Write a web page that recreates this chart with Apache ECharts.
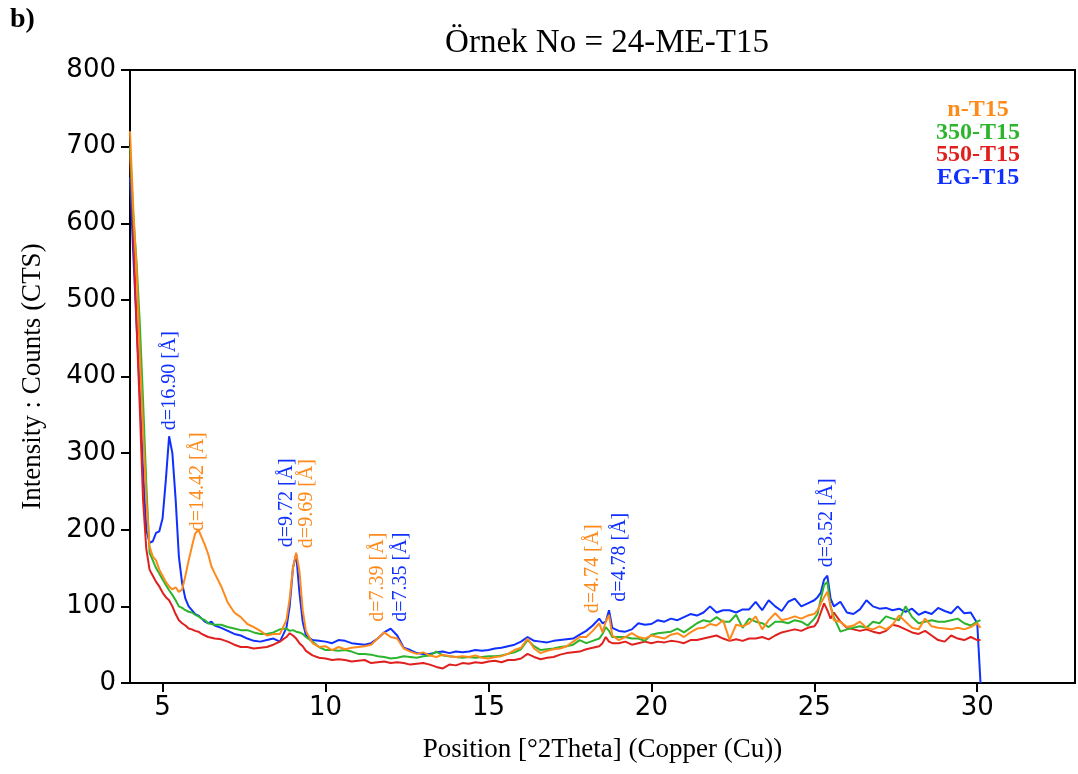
<!DOCTYPE html>
<html>
<head>
<meta charset="utf-8">
<title>Örnek No = 24-ME-T15</title>
<script src="https://cdn.jsdelivr.net/npm/echarts@6.0.0/dist/echarts.min.js"></script>
<style>
html, body { margin: 0; padding: 0; background: #fff; }
#main { width: 1078px; height: 774px; }
</style>
</head>
<body>
<div id="main"></div>
<script>
// 2Theta positions shared by all four patterns
var twoTheta = [
	4.0, 4.1, 4.2, 4.3, 4.4, 4.5, 4.6, 4.7, 4.8, 4.9, 5.0, 5.1, 5.2, 5.3, 5.4, 5.5, 5.6, 5.7, 5.8, 5.9, 6.0, 6.1, 6.2, 6.3, 6.4, 6.5, 6.6,
	6.8, 7.0, 7.2, 7.4, 7.6, 7.8, 8.0, 8.2, 8.4, 8.6, 8.8,
	8.9, 9.0, 9.1, 9.2, 9.3, 9.4,
	9.6, 9.8, 10.0, 10.2, 10.4, 10.6, 10.8, 11.0, 11.2, 11.4, 11.6, 11.8, 12.0, 12.2, 12.4, 12.6, 12.8, 13.0, 13.2, 13.4, 13.6, 13.8,
	14.0, 14.2, 14.4, 14.6, 14.8, 15.0, 15.2, 15.4, 15.6, 15.8, 16.0, 16.2, 16.4, 16.6, 16.8, 17.0, 17.2, 17.4, 17.6, 17.8, 18.0, 18.2, 18.4,
	18.5, 18.6, 18.7, 18.8,
	19.0, 19.2, 19.4, 19.6, 19.8, 20.0, 20.2, 20.4, 20.6, 20.8, 21.0, 21.2, 21.4, 21.6, 21.8, 22.0, 22.2, 22.4, 22.6, 22.8,
	23.0, 23.2, 23.4, 23.6, 23.8, 24.0, 24.2, 24.4, 24.6, 24.8, 25.0,
	25.1, 25.2, 25.3, 25.4, 25.5, 25.6,
	25.8, 26.0, 26.2, 26.4, 26.6, 26.8, 27.0, 27.2, 27.4, 27.6, 27.8, 28.0, 28.2, 28.4, 28.6, 28.8, 29.0, 29.2, 29.4, 29.6, 29.8, 30.0,
	30.1
];

var egT15 = [
	660, 560, 470, 380, 280, 200, 183, 185, 196, 198, 215, 265, 322, 300, 240, 165, 130, 110, 100, 95, 90, 88, 84, 80, 78, 80, 75,
	72, 68, 64, 62, 58, 55, 54, 56, 58, 54, 72,
	100, 150, 168, 118, 80, 62,
	56, 55, 54, 52, 56, 55, 52, 51, 50, 52, 58, 66, 71, 62, 46, 43, 39, 38, 38, 40, 41, 39,
	41, 40, 41, 43, 42, 43, 45, 46, 48, 50, 54, 60, 55, 54, 53, 55, 56, 57, 58, 63, 68, 75, 84,
	78, 80, 95, 72,
	68, 67, 70, 78, 76, 77, 82, 80, 84, 82, 86, 90, 88, 92, 100, 92, 95, 95, 92, 96,
	96, 106, 95, 108, 100, 94, 106, 110, 100, 104, 108,
	112, 118, 135, 140, 110, 100,
	106, 92, 90, 96, 108, 100, 97, 98, 95, 97, 93, 97, 89, 93, 90, 98, 94, 91, 100, 91, 92, 78,
	0
];

var nT15 = [
	720, 620, 540, 430, 330, 240, 178, 165, 160, 148, 140, 132, 126, 122, 125, 119, 122, 140, 160, 178, 195, 200, 190, 180, 168, 152, 143,
	126, 105, 92, 86, 77, 73, 68, 62, 64, 64, 82,
	110, 150, 170, 146, 95, 68,
	52, 47, 48, 43, 47, 44, 46, 47, 48, 50, 58, 66, 60, 58, 45, 41, 38, 40, 36, 34, 37, 35,
	34, 35, 34, 36, 33, 32, 34, 35, 38, 43, 46, 58, 45, 39, 42, 44, 45, 48, 54, 60, 60, 68, 78,
	66, 80, 89, 62,
	56, 60, 65, 60, 58, 62, 60, 58, 63, 65, 60, 66, 71, 72, 77, 75, 82, 56, 76, 74,
	78, 87, 70, 82, 91, 82, 84, 87, 84, 88, 90,
	95, 104, 112, 119, 100, 82,
	80, 73, 75, 80, 72, 70, 74, 70, 76, 88, 80, 72, 70, 84, 74, 72, 71, 70, 72, 70, 73, 78,
	72
];

var t15_350 = [
	700, 610, 550, 470, 370, 260, 170, 160, 150, 143, 135, 128, 121, 115, 108, 100, 98, 95, 93, 92, 89, 87, 84, 82, 78, 77, 76,
	76, 73, 71, 69, 69, 66, 64, 64, 66, 70, 71,
	68, 69, 67, 66, 64, 60,
	54, 47, 43, 43, 42, 43, 41, 38, 38, 37, 35, 34, 32, 33, 35, 34, 33, 35, 36, 41, 36, 35,
	34, 33, 34, 33, 34, 35, 35, 36, 38, 40, 44, 56, 48, 43, 44, 45, 47, 48, 50, 56, 52, 55, 58,
	64, 73, 68, 60,
	60, 60, 58, 58, 55, 63, 65, 66, 67, 71, 66, 72, 78, 82, 80, 86, 80, 80, 89, 72,
	84, 80, 78, 73, 80, 80, 78, 82, 80, 75, 84,
	90, 110, 128, 132, 100, 86,
	67, 70, 72, 74, 72, 80, 78, 87, 84, 82, 100, 86, 78, 80, 82, 80, 80, 82, 84, 78, 75, 80,
	82
];

var t15_550 = [
	690, 590, 470, 360, 240, 175, 148, 140, 132, 126, 118, 112, 108, 100, 90, 82, 78, 75, 71, 70, 68, 67, 64, 62, 60, 59, 58,
	57, 54, 50, 47, 47, 45, 46, 47, 50, 54, 60,
	65, 62, 58, 52, 48, 42,
	36, 33, 32, 30, 31, 30, 28, 29, 30, 26, 27, 28, 26, 27, 26, 24, 25, 26, 24, 21, 19, 24,
	23, 26, 25, 27, 26, 28, 29, 27, 30, 30, 32, 38, 34, 31, 33, 34, 37, 39, 40, 41, 44, 46, 48,
	52, 60, 54, 52,
	52, 54, 50, 52, 54, 52, 54, 53, 55, 54, 52, 56, 56, 58, 60, 62, 58, 55, 57, 55,
	58, 58, 60, 57, 62, 66, 68, 70, 68, 72, 74,
	80, 92, 104, 95, 84, 92,
	80, 72, 70, 68, 70, 67, 65, 68, 76, 74, 70, 66, 64, 68, 62, 56, 54, 62, 58, 56, 60, 56,
	56
];

var seriesNames = ['n-T15', '350-T15', '550-T15', 'EG-T15'];
var seriesColors = ['#ff8a1c', '#2cb52c', '#e0201e', '#0f30ff'];
var seriesValues = [nT15, t15_350, t15_550, egT15];

var xTicks = [5, 10, 15, 20, 25, 30];

// d-spacing notes: text, pattern, anchor [2Theta, counts]
var peakText = ['d=16.90 [Å]', 'd=14.42 [Å]', 'd=9.72 [Å]', 'd=9.69 [Å]', 'd=7.39 [Å]', 'd=7.35 [Å]', 'd=4.74 [Å]', 'd=4.78 [Å]', 'd=3.52 [Å]'];
var peakSeries = ['EG-T15', 'n-T15', 'EG-T15', 'n-T15', 'n-T15', 'EG-T15', 'n-T15', 'EG-T15', 'EG-T15'];
var peakAt = [[5.22, 330], [6.08, 198], [8.82, 177], [9.42, 176], [11.6, 80], [12.3, 80], [18.19, 91], [19.02, 106], [25.38, 151]];

var myChart = echarts.init(document.getElementById('main'));

function buildSeries(k) {
	var name = seriesNames[k];
	var marks = [];
	for (var i = 0; i < peakText.length; i++) {
		if (peakSeries[i] === name) {
			marks.push({ coord: peakAt[i], label: { formatter: peakText[i] } });
		}
	}
	return {
		name: name,
		type: 'line',
		showSymbol: false,
		symbol: 'none',
		data: twoTheta.map(function(x, i) { return [x, seriesValues[k][i]]; }),
		lineStyle: { color: seriesColors[k], width: 2 },
		itemStyle: { color: seriesColors[k] },
		markPoint: {
			symbol: 'circle',
			symbolSize: 0,
			silent: true,
			label: {
				show: true,
				position: 'inside',
				rotate: 90,
				align: 'left',
				verticalAlign: 'middle',
				color: seriesColors[k],
				fontFamily: 'Liberation Serif',
				fontSize: 20
			},
			data: marks
		}
	};
}

// blue first, orange last so it is drawn on top
var order = [3, 2, 1, 0];
var series = order.map(buildSeries);

var legendTexts = seriesNames.map(function(n, i) {
	return {
		type: 'text',
		x: 978,
		y: 110 + i * 22.5,
		style: {
			text: n,
			fill: seriesColors[i],
			font: 'bold 24px "Liberation Serif"',
			align: 'center',
			verticalAlign: 'middle'
		}
	};
});

var option = {
	animation: false,
	backgroundColor: '#fff',
	title: {
		text: 'Örnek No = 24-ME-T15',
		left: 602,
		top: 22,
		textAlign: 'center',
		textStyle: { fontFamily: 'Liberation Serif', fontSize: 33, fontWeight: 'normal', color: '#000' }
	},
	grid: {
		left: 130,
		right: 3,
		top: 70,
		bottom: 91,
		show: true,
		borderColor: '#000',
		borderWidth: 2
	},
	xAxis: {
		type: 'value',
		min: 4,
		max: 33,
		name: 'Position [°2Theta] (Copper (Cu))',
		nameLocation: 'middle',
		nameGap: 53,
		nameTextStyle: { fontFamily: 'Liberation Serif', fontSize: 27, color: '#000' },
		splitLine: { show: false },
		axisLine: { onZero: false, lineStyle: { color: '#000', width: 2 } },
		axisTick: { customValues: xTicks, length: 9, lineStyle: { color: '#000', width: 2 } },
		axisLabel: { customValues: xTicks, fontFamily: 'DejaVu Sans', fontSize: 26, color: '#000', margin: 12 }
	},
	yAxis: {
		type: 'value',
		min: 0,
		max: 800,
		interval: 100,
		name: 'Intensity : Counts (CTS)',
		nameLocation: 'middle',
		nameGap: 84,
		nameTextStyle: { fontFamily: 'Liberation Serif', fontSize: 27, color: '#000' },
		splitLine: { show: false },
		axisLine: { onZero: false, lineStyle: { color: '#000', width: 2 } },
		axisTick: { length: 9, lineStyle: { color: '#000', width: 2 } },
		axisLabel: { fontFamily: 'DejaVu Sans', fontSize: 26, color: '#000', margin: 14 }
	},
	graphic: [{
		type: 'text',
		left: 10,
		top: 6,
		style: { text: 'b)', fill: '#000', font: 'bold 28px "Liberation Serif"' }
	}].concat(legendTexts),
	series: series
};

myChart.setOption(option);
</script>
</body>
</html>
